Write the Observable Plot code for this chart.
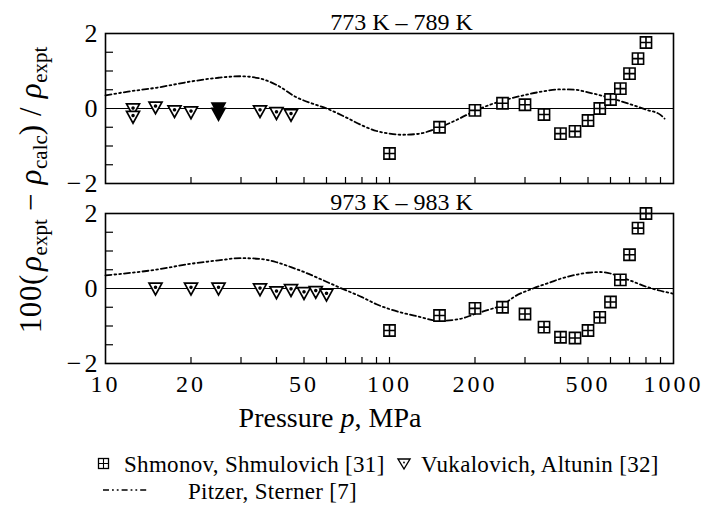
<!DOCTYPE html>
<html>
<head>
<meta charset="utf-8">
<script src="https://cdn.jsdelivr.net/npm/d3@7"></script>
<script src="https://cdn.jsdelivr.net/npm/@observablehq/plot@0.6"></script>
<style>
  html, body { margin: 0; padding: 0; background: white; }
  #wrap { position: relative; width: 706px; height: 506px; overflow: hidden; background: white; font-family: "Liberation Serif", serif; color: black; }
  #chart { position: absolute; left: 0; top: 0; }
  #chart svg, #chart svg text { font-family: "Liberation Serif", serif !important; }
  #chart [aria-label="x-axis tick label"] text, #chart [aria-label="y-axis tick label"] text { letter-spacing: 3px; }
  #chart [aria-label="panel-title"] text { letter-spacing: 3.5px; }
  .abs { position: absolute; white-space: nowrap; line-height: 1; font-family: "Liberation Serif", serif; }
  #ytitle { left: 30px; top: 190px; font-size: 31px; letter-spacing: 0.6px; transform: translate(-50%, -50%) rotate(-90deg); }
  #ytitle sub { font-size: 21px; vertical-align: -6px; line-height: 0; letter-spacing: 0; }
  #xtitle { left: 330px; top: 418px; font-size: 28px; transform: translate(-50%, -50%); }
  .leg { font-size: 23px; letter-spacing: 0.3px; }
</style>
</head>
<body>
<div id="wrap">
  <div id="chart"></div>
  <div id="ytitle" class="abs">100(&#8202;<i>ρ</i><sub>expt</sub> − <i>ρ</i><sub>calc</sub>) / <i>ρ</i><sub>expt</sub></div>
  <div id="xtitle" class="abs">Pressure <i>p</i>, MPa</div>
  <svg class="abs" style="left:97px;top:457px" width="14" height="14"><rect x="1.5" y="1.5" width="10" height="10" fill="white" stroke="black" stroke-width="1.3"/><path d="M6.5,1.5V11.5M1.5,6.5H11.5" stroke="black" stroke-width="1.1"/></svg>
  <div class="abs leg" style="left:124px;top:453px">Shmonov, Shmulovich [31]</div>
  <svg class="abs" style="left:396px;top:457px" width="16" height="14"><path d="M2,2H14L8,12Z" fill="white" stroke="black" stroke-width="1.4"/><circle cx="8" cy="5.5" r="0.9" fill="black"/></svg>
  <div class="abs leg" style="left:421px;top:453px">Vukalovich, Altunin [32]</div>
  <svg class="abs" style="left:100px;top:485px" width="50" height="10"><line x1="3" y1="5" x2="47" y2="5" stroke="black" stroke-width="1.5" stroke-dasharray="6,3,1.8,3,1.8,3"/></svg>
  <div class="abs leg" style="left:188px;top:480px">Pitzer, Sterner [7]</div>
</div>
<script>
// ---- data ----
const panels = ["773 K – 789 K", "973 K – 983 K"];

// Shmonov, Shmulovich [31]
const shmP = [100, 150, 200, 250, 300, 350, 400, 450, 500, 550, 600, 650, 700, 750, 800];
const shmTop = [-1.2, -0.5, -0.05, 0.14, 0.1, -0.16, -0.67, -0.61, -0.32, 0.0, 0.24, 0.53, 0.93, 1.33, 1.76];
const shmBot = [-1.12, -0.72, -0.53, -0.5, -0.68, -1.03, -1.3, -1.32, -1.12, -0.77, -0.36, 0.23, 0.9, 1.61, 2.0];

// Vukalovich, Altunin [32]
const vukTopP = [12.5, 12.5, 15, 17.5, 20, 35, 40, 45];
const vukTopV = [0.0, -0.2, 0.05, -0.05, -0.08, -0.05, -0.1, -0.15];
const vukTopFilledP = [25, 25];
const vukTopFilledV = [0.02, -0.12];
const vukBotP = [15, 20, 25, 35, 40, 45, 50, 55, 60];
const vukBotV = [0.02, 0.02, 0.02, 0.0, -0.08, -0.02, -0.1, -0.07, -0.14];

// Pitzer, Sterner [7]
const pitTopP = [10, 12, 15, 20, 25, 30, 35, 40, 47, 55, 60, 70, 80, 90, 100, 110, 125, 150, 175, 200, 250, 300, 350, 400, 450, 500, 600, 700, 800, 900, 930];
const pitTopV = [0.35, 0.45, 0.55, 0.72, 0.82, 0.86, 0.8, 0.63, 0.3, 0.1, 0.0, -0.23, -0.45, -0.6, -0.67, -0.7, -0.68, -0.5, -0.28, -0.06, 0.21, 0.36, 0.46, 0.51, 0.5, 0.43, 0.28, 0.12, -0.03, -0.17, -0.27];
const pitBotP = [10, 15, 20, 25, 30, 35, 40, 45, 50, 58, 66, 80, 90, 100, 125, 150, 175, 200, 225, 250, 275, 320, 370, 400, 450, 500, 550, 600, 650, 700, 800, 900, 1000];
const pitBotV = [0.35, 0.5, 0.66, 0.75, 0.81, 0.79, 0.7, 0.57, 0.44, 0.23, 0.04, -0.23, -0.42, -0.55, -0.74, -0.86, -0.82, -0.68, -0.56, -0.44, -0.22, 0.0, 0.17, 0.26, 0.36, 0.42, 0.44, 0.4, 0.3, 0.22, 0.05, -0.06, -0.14];

// axis ticks
const xTickLabels = [10, 20, 50, 100, 200, 500, 1000];
const xMinorTicks = [20, 30, 40, 50, 60, 70, 80, 90, 100, 200, 300, 400, 500, 600, 700, 800, 900];
const yTickLabels = [-2, 0, 2];
const yMinorTicks = [-1.5, -1, -0.5, 0.5, 1, 1.5];

// ---- tables ----
const rows = (ps, vs, panel) => ps.map((p, i) => ({p, v: vs[i], panel}));
const shm = [...rows(shmP, shmTop, panels[0]), ...rows(shmP, shmBot, panels[1])];
const vuk = [...rows(vukTopP, vukTopV, panels[0]), ...rows(vukBotP, vukBotV, panels[1])];
const vukFilled = rows(vukTopFilledP, vukTopFilledV, panels[0]);
const pit = [...rows(pitTopP, pitTopV, panels[0]), ...rows(pitBotP, pitBotV, panels[1])];

// ---- symbols ----
const boxPlus = {
  draw(ctx, size) {
    const h = Math.sqrt(size / Math.PI) * 0.9;
    ctx.moveTo(-h, -h); ctx.lineTo(h, -h); ctx.lineTo(h, h); ctx.lineTo(-h, h); ctx.closePath();
    ctx.moveTo(0, -h); ctx.lineTo(0, h);
    ctx.moveTo(-h, 0); ctx.lineTo(h, 0);
  }
};
const triDot = {
  draw(ctx, size) {
    const r = Math.sqrt(size / Math.PI);
    ctx.moveTo(-r, -0.7 * r); ctx.lineTo(r, -0.7 * r); ctx.lineTo(0, 1.1 * r); ctx.closePath();
    ctx.moveTo(0.9, -0.6); ctx.arc(0, -0.6, 0.9, 0, 2 * Math.PI);
  }
};

const minus = d => d < 0 ? "\u2212" + Math.abs(d) : String(d);
const frameW = 706 - 105 - 33;
const chart = Plot.plot({
  width: 706,
  height: 403,
  marginLeft: 105,
  marginRight: 33,
  marginTop: 33,
  marginBottom: 40,
  style: {fontFamily: "Liberation Serif", fontSize: "23px", background: "white", color: "black", overflow: "visible"},
  x: {type: "log", domain: [10, 1000]},
  y: {domain: [-2, 2]},
  fy: {domain: panels, paddingInner: 1 / 6, paddingOuter: 0, axis: null},
  marks: [
    Plot.ruleY([0], {strokeWidth: 1.2}),
    Plot.ruleX(xMinorTicks, {x: d => d, insetTop: 144, strokeWidth: 1.2}),
    Plot.ruleY(yMinorTicks, {y: d => d, insetRight: frameW - 8, strokeWidth: 1.2}),
    Plot.line(pit, {x: "p", y: "v", fy: "panel", curve: "monotone-x", strokeWidth: 1.8, strokeDasharray: "6,3,1.8,3,1.8,3"}),
    Plot.dot(vuk, {x: "p", y: "v", fy: "panel", symbol: triDot, r: 6.5, fill: "white", stroke: "black", strokeWidth: 1.7}),
    Plot.dot(vukFilled, {x: "p", y: "v", fy: "panel", symbol: triDot, r: 6.5, fill: "black", stroke: "black", strokeWidth: 1.7}),
    Plot.dot(shm, {x: "p", y: "v", fy: "panel", symbol: boxPlus, r: 6.2, fill: "white", stroke: "black", strokeWidth: 1.6}),
    Plot.frame({strokeWidth: 1.6}),
    Plot.text(panels, {fy: d => d, text: d => d, frameAnchor: "top", lineAnchor: "bottom", dy: -4, dx: 12, fontSize: 24, ariaLabel: "panel-title"}),
    Plot.axisX({ticks: xTickLabels, tickSize: 0, tickPadding: 11, tickFormat: d => String(d), fontSize: 24, label: null}),
    Plot.axisY({ticks: yTickLabels, tickSize: 0, tickPadding: 5, tickFormat: minus, fontSize: 26, label: null})
  ]
});
document.getElementById("chart").appendChild(chart);
</script>
</body>
</html>
